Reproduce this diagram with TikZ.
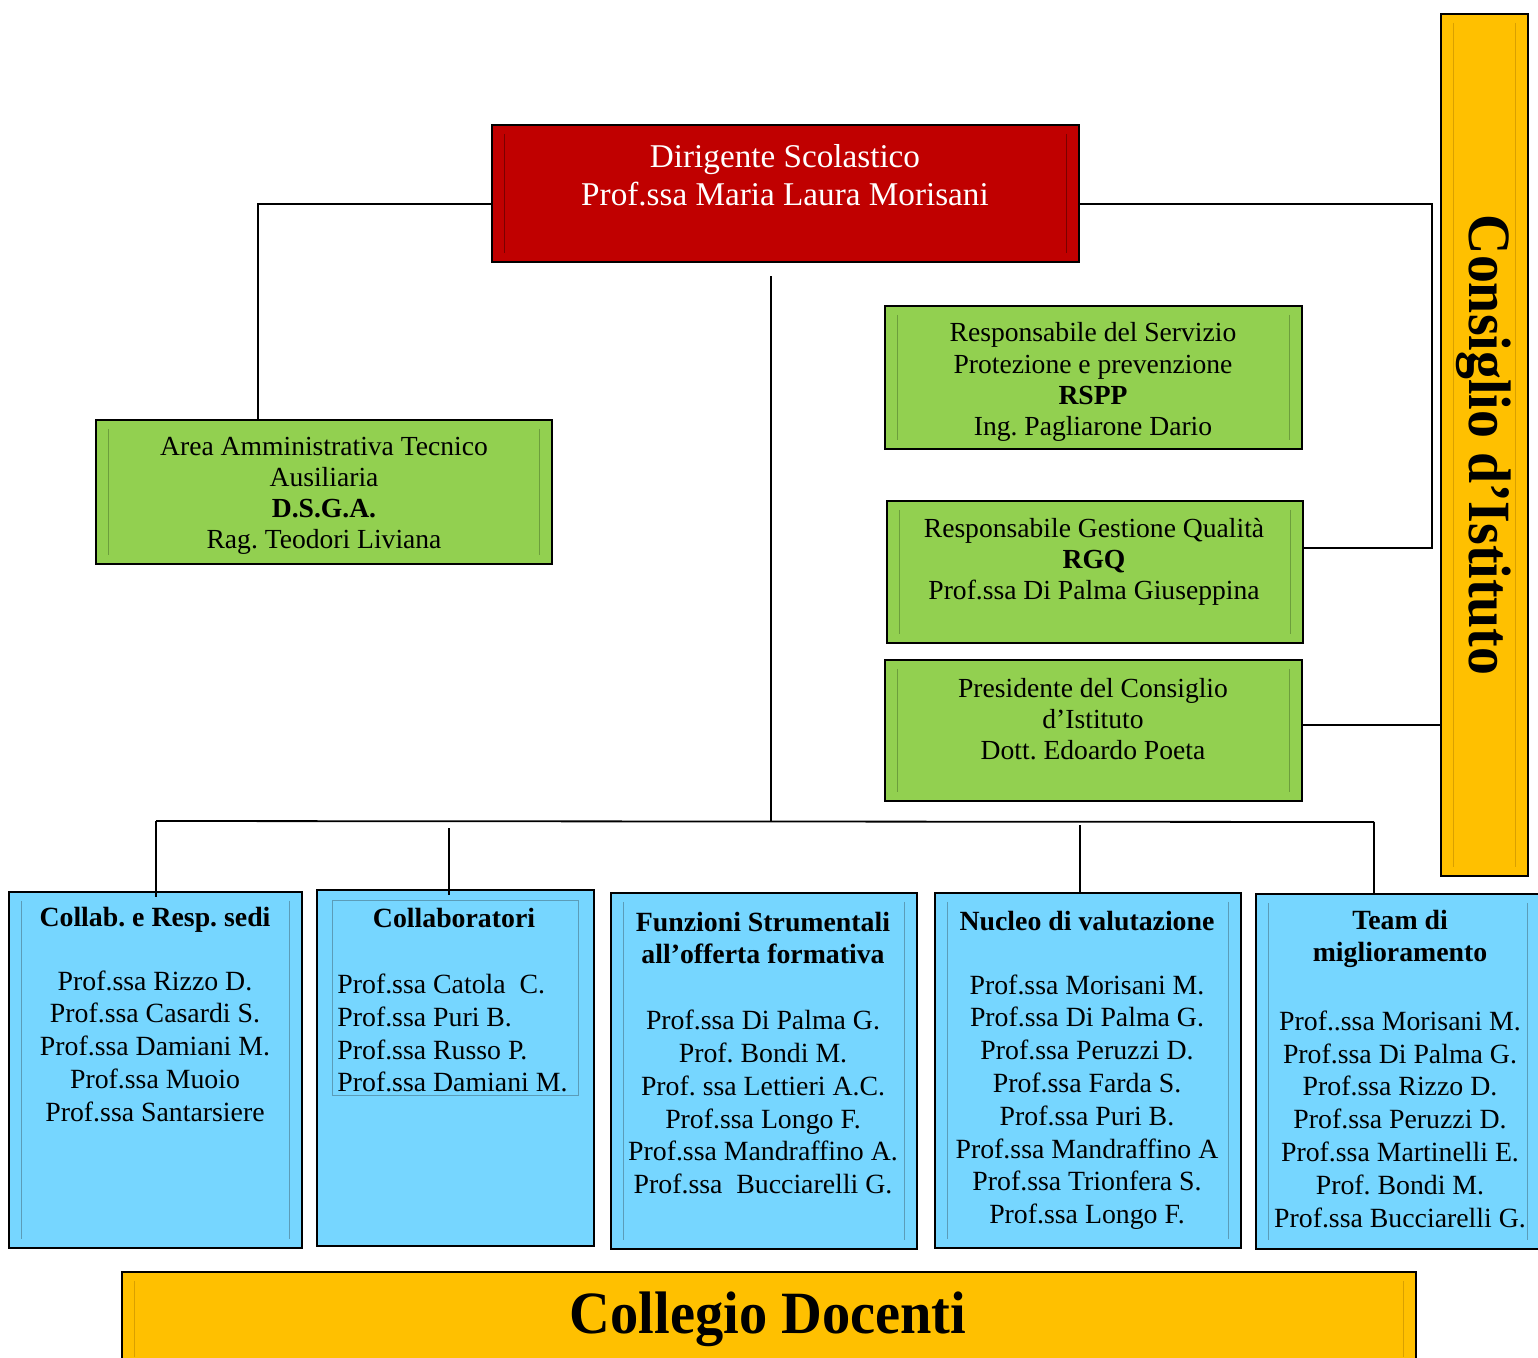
\documentclass[tikz,border=0pt]{standalone}
\usepackage{fontspec}
\setmainfont{Liberation Serif}
\usetikzlibrary{fit}
\frenchspacing
\definecolor{dsred}{HTML}{C00000}
\definecolor{dsredline}{HTML}{7A0000}
\definecolor{areagreen}{HTML}{92D050}
\definecolor{areagreenline}{HTML}{6C9E3C}
\definecolor{teamblue}{HTML}{76D6FF}
\definecolor{teamblueline}{HTML}{5B9CB8}
\definecolor{boardgold}{HTML}{FFC000}
\definecolor{boardgoldline}{HTML}{D9A000}
\tikzset{
  box/.style={draw=black, line width=1.1pt, inner sep=0pt},
  redbox/.style={box, fill=dsred},
  greenbox/.style={box, fill=areagreen},
  bluebox/.style={box, fill=teamblue},
  goldbox/.style={box, fill=boardgold},
  link/.style={draw=black, line width=0.9pt},
  txt/.style={align=center, inner sep=0pt},
  greentxt/.style={txt, font=\fontsize{13.8}{15.6}\selectfont},
  bluetxt/.style={txt, font=\fontsize{13.9}{16.4}\selectfont},
  bluetitle/.style={txt, font=\bfseries\fontsize{13.9}{16.4}\selectfont}
}
% linee interne dei riquadri
\newcommand{\boxinset}[2]{%
  \draw[line width=0.5pt, #2] ([shift={(7pt,-5pt)}]#1.north west) -- ([shift={(7pt,5pt)}]#1.south west)
    ([shift={(-7pt,-5pt)}]#1.north east) -- ([shift={(-7pt,5pt)}]#1.south east);}
\begin{document}
\begin{tikzpicture}[x=0.5pt, y=-0.5pt]
  \useasboundingbox (0,0) rectangle (1538,1357);

  % riquadri
  \node[redbox, fit={(492,125) (1079,262)}] (dir) {};
  \node[greenbox, fit={(96,420) (552,564)}] (asa) {};
  \node[greenbox, fit={(885,306) (1302,449)}] (rspp) {};
  \node[greenbox, fit={(887,501) (1303,643)}] (rgq) {};
  \node[greenbox, fit={(885,660) (1302,801)}] (pres) {};
  \node[goldbox, fit={(1441,14) (1528,876)}] (cdi) {};
  \node[bluebox, fit={(9,892) (302,1248)}] (col1) {};
  \node[bluebox, fit={(317,890) (594,1246)}] (col2) {};
  \node[bluebox, fit={(611,893) (917,1249)}] (col3) {};
  \node[bluebox, fit={(935,893) (1241,1248)}] (col4) {};
  \node[bluebox, fit={(1256,894) (1540,1249)}] (col5) {};
  \node[goldbox, fit={(122,1272) (1416,1366)}] (cd) {};

  \boxinset{dir}{dsredline}
  \foreach \b in {asa,rspp,rgq,pres}{\boxinset{\b}{areagreenline}}
  \foreach \b in {col1,col3,col4,col5}{\boxinset{\b}{teamblueline}}
  \boxinset{cdi}{boardgoldline}
  \boxinset{cd}{boardgoldline}
  \draw[line width=0.5pt, teamblueline] (332,900) rectangle (578,1095);

  % testi
  \node[txt, text=white, font=\fontsize{16.6}{19}\selectfont] (dirtxt) at (785,175) {Dirigente Scolastico\\Prof.ssa Maria Laura Morisani};
  \node[greentxt] (asatxt) at (324,496) {Area Amministrativa Tecnico\\Ausiliaria\\\textbf{D.S.G.A.}\\Rag. Teodori Liviana};
  \node[greentxt] (rspptxt) at (1093,382) {Responsabile del Servizio\\Protezione e prevenzione\\\textbf{RSPP}\\Ing. Pagliarone Dario};
  \node[greentxt] (rgqtxt) at (1094,562) {Responsabile Gestione Qualità\\\textbf{RGQ}\\Prof.ssa Di Palma Giuseppina};
  \node[greentxt] (prestxt) at (1093,719) {Presidente del Consiglio\\d’Istituto\\Dott. Edoardo Poeta};

  \node[bluetitle] (col1title) at (155,920) {Collab. e Resp. sedi};
  \node[bluetxt] (col1names) at (155,1046) {Prof.ssa Rizzo D.\\Prof.ssa Casardi S.\\Prof.ssa Damiani M.\\Prof.ssa Muoio\\Prof.ssa Santarsiere};
  \node[bluetitle] (col2title) at (454,918) {Collaboratori};
  \node[bluetxt, align=left, anchor=west] (col2names) at (337,1033) {Prof.ssa Catola~~C.\\Prof.ssa Puri B.\\Prof.ssa Russo P.\\Prof.ssa Damiani M.};
  \node[bluetitle] (col3title) at (763,938) {Funzioni Strumentali\\all’offerta formativa};
  \node[bluetxt] (col3names) at (763,1102) {Prof.ssa Di Palma G.\\Prof. Bondi M.\\Prof. ssa Lettieri A.C.\\Prof.ssa Longo F.\\Prof.ssa Mandraffino A.\\Prof.ssa~~Bucciarelli G.};
  \node[bluetitle] (col4title) at (1087,921) {Nucleo di valutazione};
  \node[bluetxt] (col4names) at (1087,1102) {Prof.ssa Morisani M.\\Prof.ssa Di Palma G.\\Prof.ssa Peruzzi D.\\Prof.ssa Farda S.\\Prof.ssa Puri B.\\Prof.ssa Mandraffino A\\Prof.ssa Trionfera S.\\Prof.ssa Longo F.};
  \node[bluetitle] (col5title) at (1400,939) {Team di\\miglioramento};
  \node[bluetxt] (col5names) at (1400,1119) {Prof..ssa Morisani M.\\Prof.ssa Di Palma G.\\Prof.ssa Rizzo D.\\Prof.ssa Peruzzi D.\\Prof.ssa Martinelli E.\\Prof. Bondi M.\\Prof.ssa Bucciarelli G.};

  \node[txt, rotate=-90, font=\bfseries\fontsize{30}{30}\selectfont] (cditxt) at (1484,445) {\scalebox{0.93}[1]{Consiglio d’Istituto}};
  \node[txt, font=\bfseries\fontsize{30}{30}\selectfont] (cdtxt) at (768,1319) {\scalebox{0.94}[1]{Collegio Docenti}};

  % collegamenti
  \coordinate (ltop) at (258,204);
  \coordinate (rtop) at (1432,204);
  \coordinate (rmid) at (1432,548);
  \coordinate (trunk) at (771,276);
  \coordinate (busL) at (156,821);
  \coordinate (busR) at (1374,822);
  \coordinate (drop2) at (449,828);
  \coordinate (drop4) at (1080,825);

  \draw[link] (dir.west |- ltop) -- (ltop) -- (ltop |- asa.north);
  \draw[link] (dir.east |- rtop) -- (rtop) -- (rmid) -- (rgq.east |- rmid);
  \draw[link] ([yshift=2.75pt]pres.east) -- ([yshift=2.75pt]pres.east -| cdi.west);
  \draw[link] (trunk) -- (trunk |- busL);
  \draw[link] (busL) -- (busR);
  \draw[link] (busL) -- ([yshift=-3pt]busL |- col1.north);
  \draw[link] (drop2) -- ([yshift=-3pt]drop2 |- col2.north);
  \draw[link] (drop4) -- (drop4 |- col4.north);
  \draw[link] (busR) -- (busR |- col5.north);
\end{tikzpicture}
\end{document}
